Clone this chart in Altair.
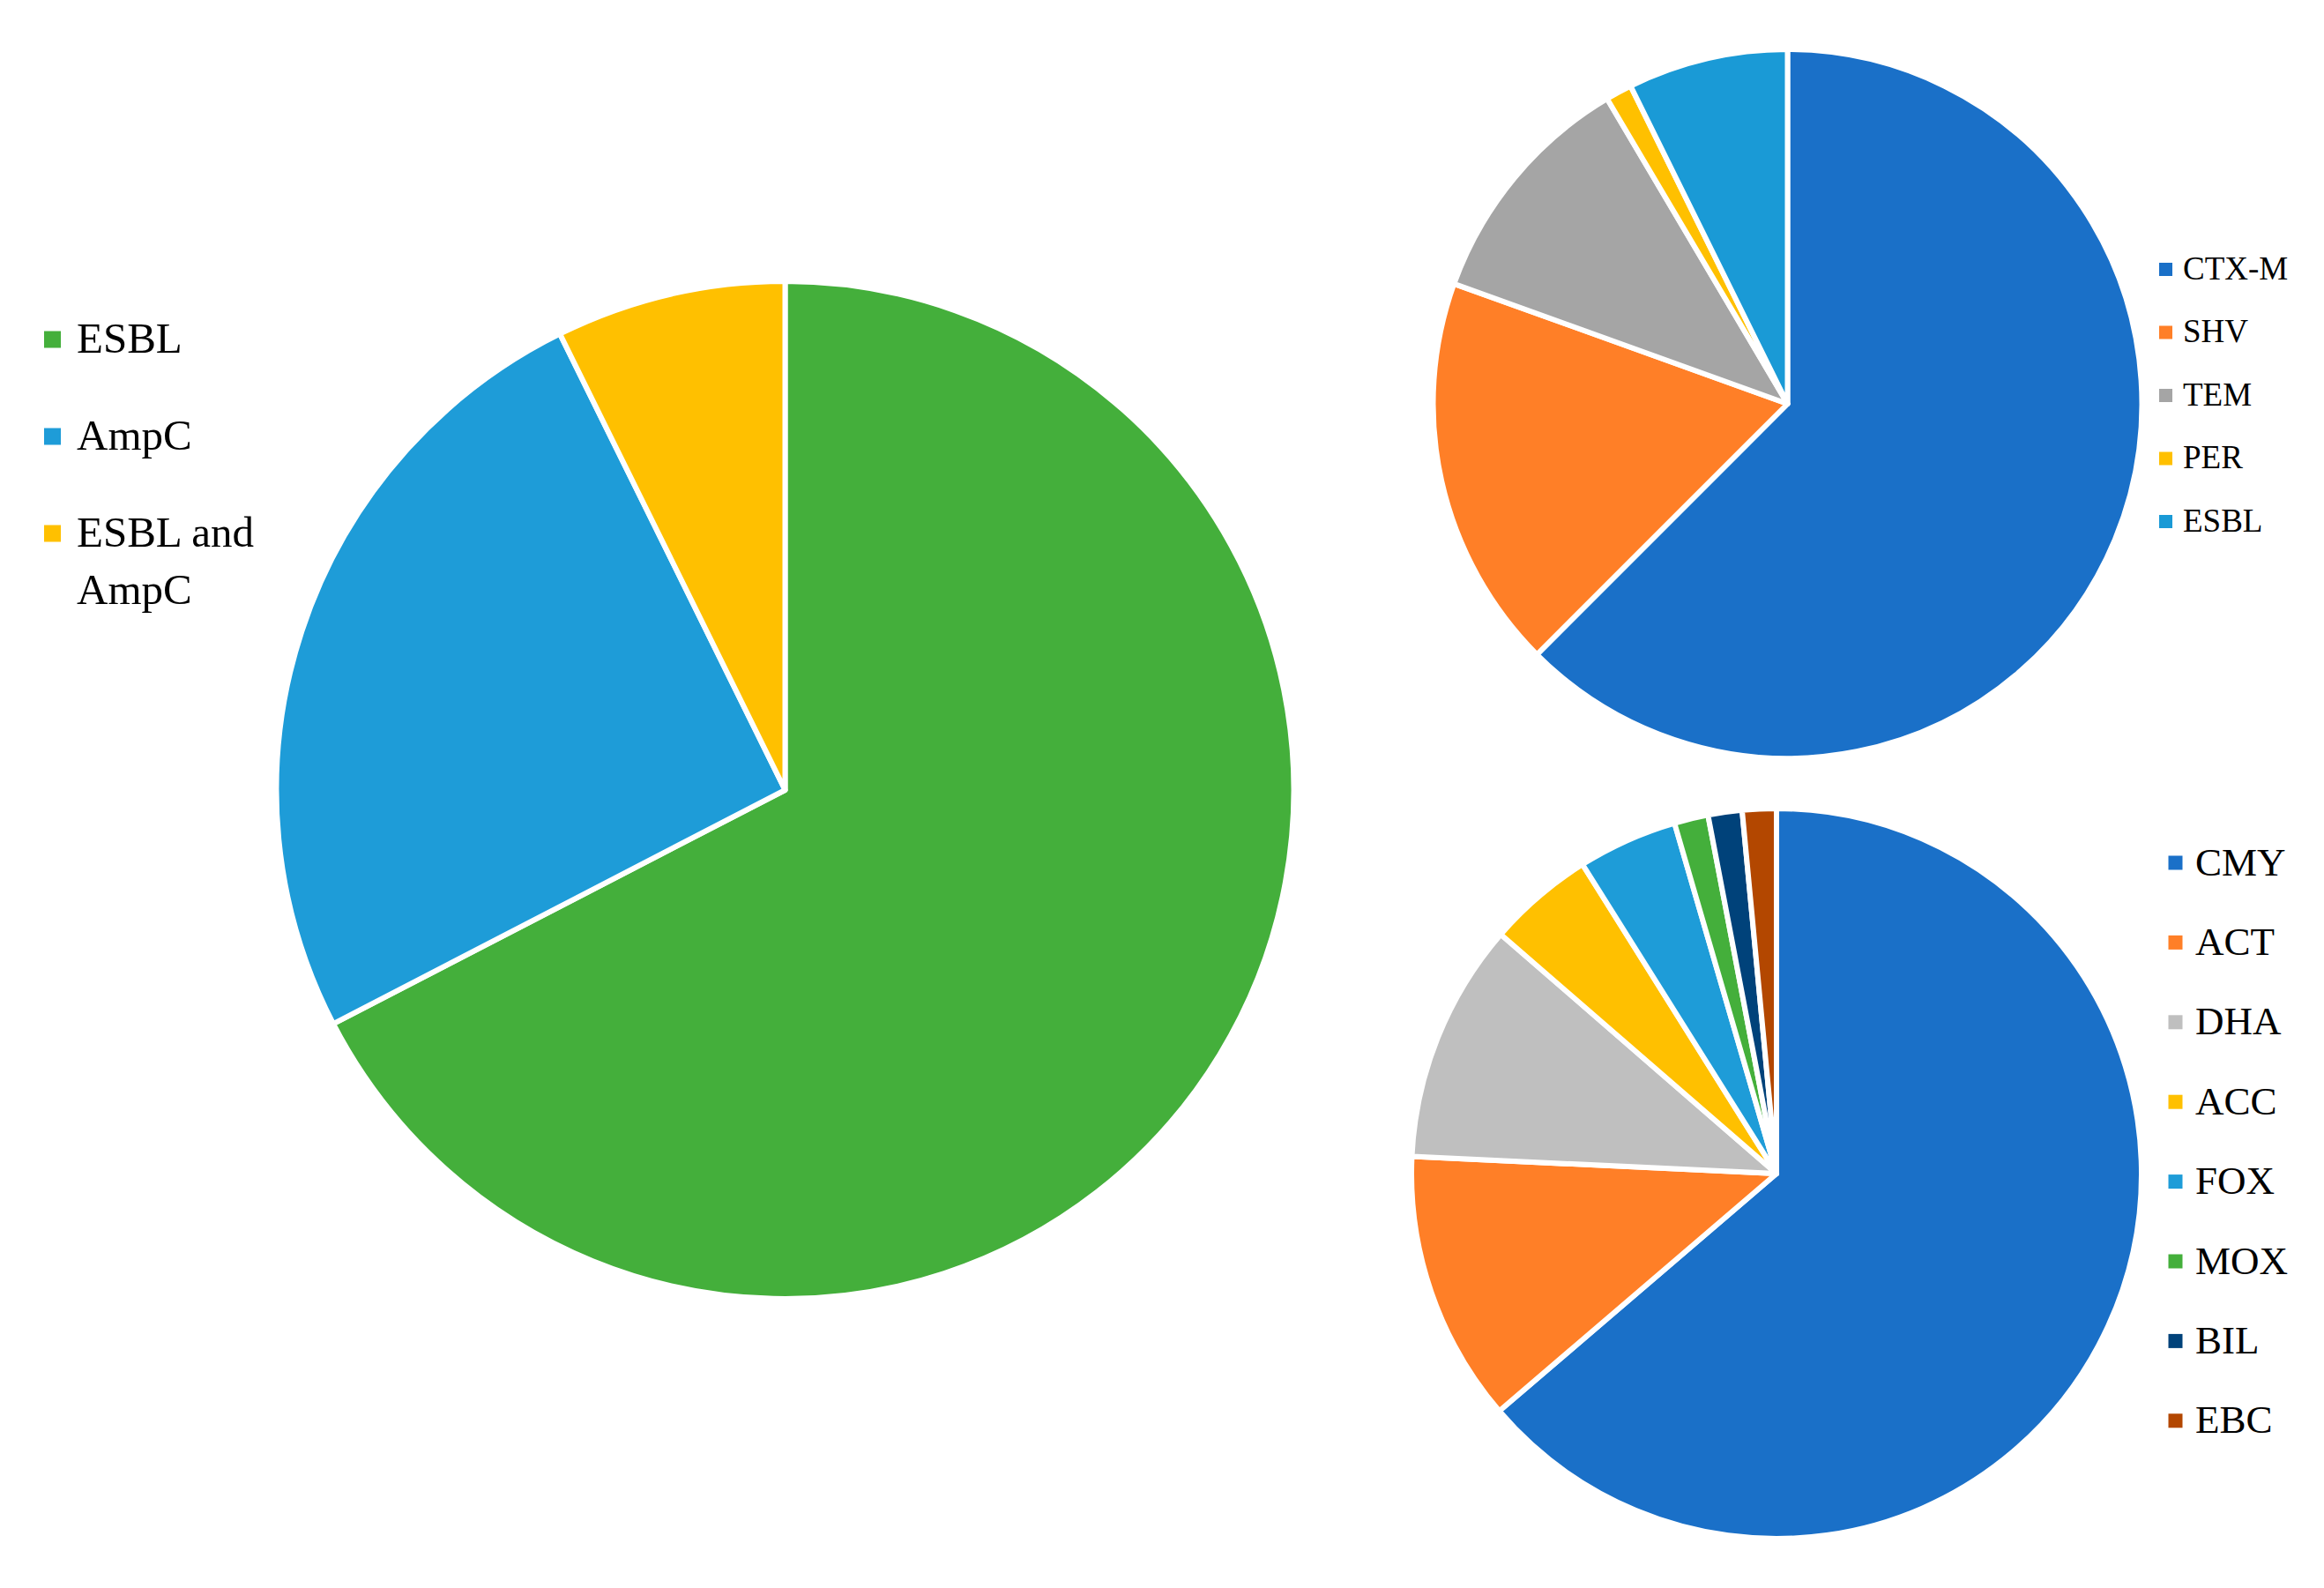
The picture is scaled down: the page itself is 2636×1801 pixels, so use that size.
import altair as alt
import pandas as pd

# Main pie
main_cats = ["ESBL", "AmpC", "ESBL and AmpC"]
main_vals = [67.4, 25.3, 7.3]
main_cols = ["#44AF3B", "#1E9CD8", "#FFC000"]

# ESBL subtypes (top right)
esbl_cats = ["CTX-M", "SHV", "TEM", "PER", "ESBL"]
esbl_vals = [62.5, 18.0, 11.0, 1.2, 7.3]
esbl_cols = ["#1A70C8", "#FF7F27", "#A5A5A5", "#FFC000", "#1A9AD6"]

# AmpC subtypes (bottom right)
ampc_cats = ["CMY", "ACT", "DHA", "ACC", "FOX", "MOX", "BIL", "EBC"]
ampc_vals = [63.6, 12.0, 10.6, 4.7, 4.4, 1.5, 1.5, 1.5]
ampc_cols = ["#1A70C8", "#FF7F27", "#BFBFBF", "#FFC000", "#1E9CD8", "#44AF3B", "#00427A", "#B34700"]

FONT = "Liberation Serif"


def pie(cats, vals, cols, cx, cy, r, legend):
    df = pd.DataFrame({"cat": cats, "value": vals, "idx": list(range(len(cats)))})
    return alt.Chart(df).mark_arc(
        radius=r, stroke="white", strokeWidth=6, strokeJoin="round"
    ).encode(
        theta=alt.Theta("value:Q", stack=True),
        color=alt.Color("cat:N", scale=alt.Scale(domain=cats, range=cols), legend=legend),
        order=alt.Order("idx:Q"),
        x=alt.value(cx),
        y=alt.value(cy),
    )


def make_legend(x, y, size, font_size, offset, row_pad, **kw):
    return alt.Legend(
        title=None, orient="none", legendX=x, legendY=y, direction="vertical",
        symbolType="square", symbolSize=size, symbolStrokeWidth=0,
        labelFont=FONT, labelFontSize=font_size, labelColor="black",
        labelOffset=offset, rowPadding=row_pad, labelLimit=600, padding=0, **kw
    )


big = pie(main_cats, main_vals, main_cols, 882.5, 888, 577,
          make_legend(27, 352.5, 361, 49, 3, 60,
                      labelExpr="datum.label == 'ESBL and AmpC' ? ['ESBL and', 'AmpC'] : datum.label"))
top = pie(esbl_cats, esbl_vals, esbl_cols, 2019.5, 450, 402,
          make_legend(2430, 279, 225, 37, 1, 33.5))
bot = pie(ampc_cats, ampc_vals, ampc_cols, 2007, 1323, 414,
          make_legend(2437, 948, 256, 45, 0, 44.4))

chart = alt.layer(big, top, bot).resolve_scale(
    color="independent", theta="independent"
).resolve_legend(color="independent").properties(
    width=2620, height=1785, padding=0,
    autosize=alt.AutoSizeParams(type="none"),
).configure(
    view={"stroke": None},
    style={"guide-label": {"lineHeight": 65}},
)

chart.save("out.html", embed_options={"renderer": "svg", "actions": False})
